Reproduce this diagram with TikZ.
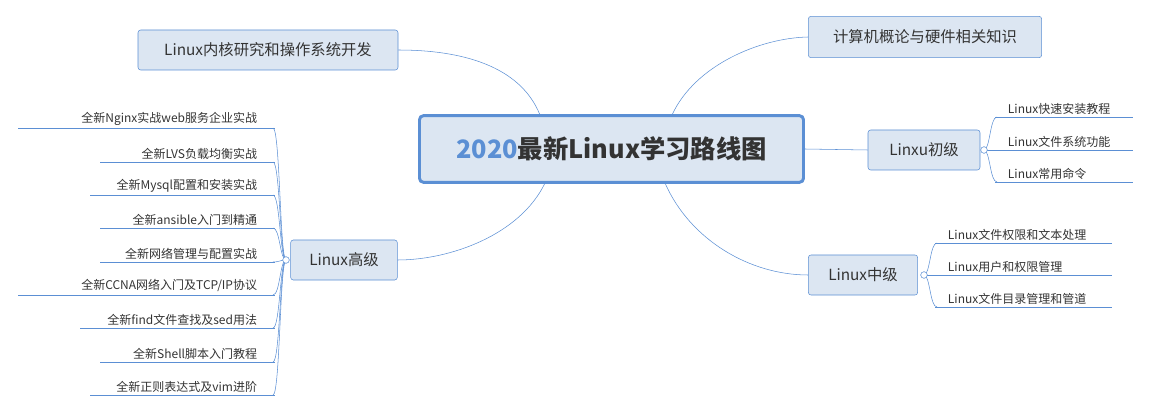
\documentclass[tikz,border=0pt]{standalone}
\usepackage{fontspec}
\setmainfont{Noto Sans CJK SC}
\definecolor{edge}{HTML}{5B8FD4}
\definecolor{boxfill}{HTML}{DCE6F2}
\definecolor{ink}{HTML}{333333}
\tikzset{
  topic/.style={draw=edge,fill=boxfill,rounded corners=2pt,font=\fontsize{11.5}{13}\selectfont,text=ink,inner sep=0pt},
  leaf/.style={font=\fontsize{9}{10}\selectfont,text=ink,inner sep=2pt},
  link/.style={edge,thin},
  knob/.style={draw=edge,fill=white,circle,inner sep=0pt,minimum size=5pt}
}
\begin{document}
\begin{tikzpicture}[x=0.75pt,y=-0.75pt]
\useasboundingbox (0,0) rectangle (1150,406);
% centre
\node[draw=edge,line width=2.2pt,fill=boxfill,rounded corners=3pt,minimum width=288pt,minimum height=50pt,text width=270pt,align=center]
  (root) at (611.5,149) {\fontsize{19}{22}\selectfont\bfseries\textcolor{edge}{2020}\textcolor{ink}{最新Linux学习路线图}};
% topics
\node[topic,minimum width=195pt,minimum height=30pt] (kern) at (268,50) {Linux内核研究和操作系统开发};
\node[topic,minimum width=175pt,minimum height=31pt] (hw) at (925,37) {计算机概论与硬件相关知识};
\node[topic,minimum width=84pt,minimum height=30pt] (low) at (924,150) {Linxu初级};
\node[topic,minimum width=82pt,minimum height=30pt] (mid) at (863,275) {Linux中级};
\node[topic,minimum width=80pt,minimum height=30pt] (high) at (344,260) {Linux高级};
% links from centre
\draw[link] (540,115) .. controls (520,65) and (460,50) .. (kern.east);
\draw[link] (672,115) .. controls (695,65) and (760,38) .. (hw.west);
\draw[link] (root.east) -- (low.west);
\draw[link] (665,183) .. controls (690,240) and (750,275) .. (mid.west);
\draw[link] (545,183) .. controls (520,235) and (450,260) .. (high.east);
% Linxu初级
\coordinate (lowk) at (984,150);
\foreach \t/\y [count=\i] in {Linux快速安装教程/117,Linux文件系统功能/150,Linux常用命令/182}{
  \node[leaf,anchor=south west] (low\i) at (1005,\y) {\t};
  \draw[link] (995,\y) -- (1133,\y);
  \draw[link] (lowk) .. controls (990,150) and (990,\y) .. (997,\y);
}
\node[knob] at (lowk) {};
% Linux中级
\coordinate (midk) at (924,275);
\foreach \t/\y [count=\i] in {Linux文件权限和文本处理/243,Linux用户和权限管理/275,Linux文件目录管理和管道/307}{
  \node[leaf,anchor=south west] (mid\i) at (945,\y) {\t};
  \draw[link] (935,\y) -- (1112,\y);
  \draw[link] (midk) .. controls (930,275) and (930,\y) .. (937,\y);
}
\node[knob] at (midk) {};
% Linux高级
\coordinate (highk) at (286,260);
\foreach \t/\y/\x [count=\i] in {全新Nginx实战web服务企业实战/128/18,全新LVS负载均衡实战/162/100,全新Mysql配置和安装实战/195/90,全新ansible入门到精通/228/100,全新网络管理与配置实战/262/100,{全新CCNA网络入门及TCP/IP协议}/295/18,全新find文件查找及sed用法/328/80,全新Shell脚本入门教程/362/100,全新正则表达式及vim进阶/395/90}{
  \node[leaf,anchor=south east] (high\i) at (260,\y) {\t};
  \draw[link] (\x,\y) -- (275,\y);
  \draw[link] (highk) .. controls (280,260) and (280,\y) .. (273,\y);
}
\node[knob] at (highk) {};
\end{tikzpicture}
\end{document}
